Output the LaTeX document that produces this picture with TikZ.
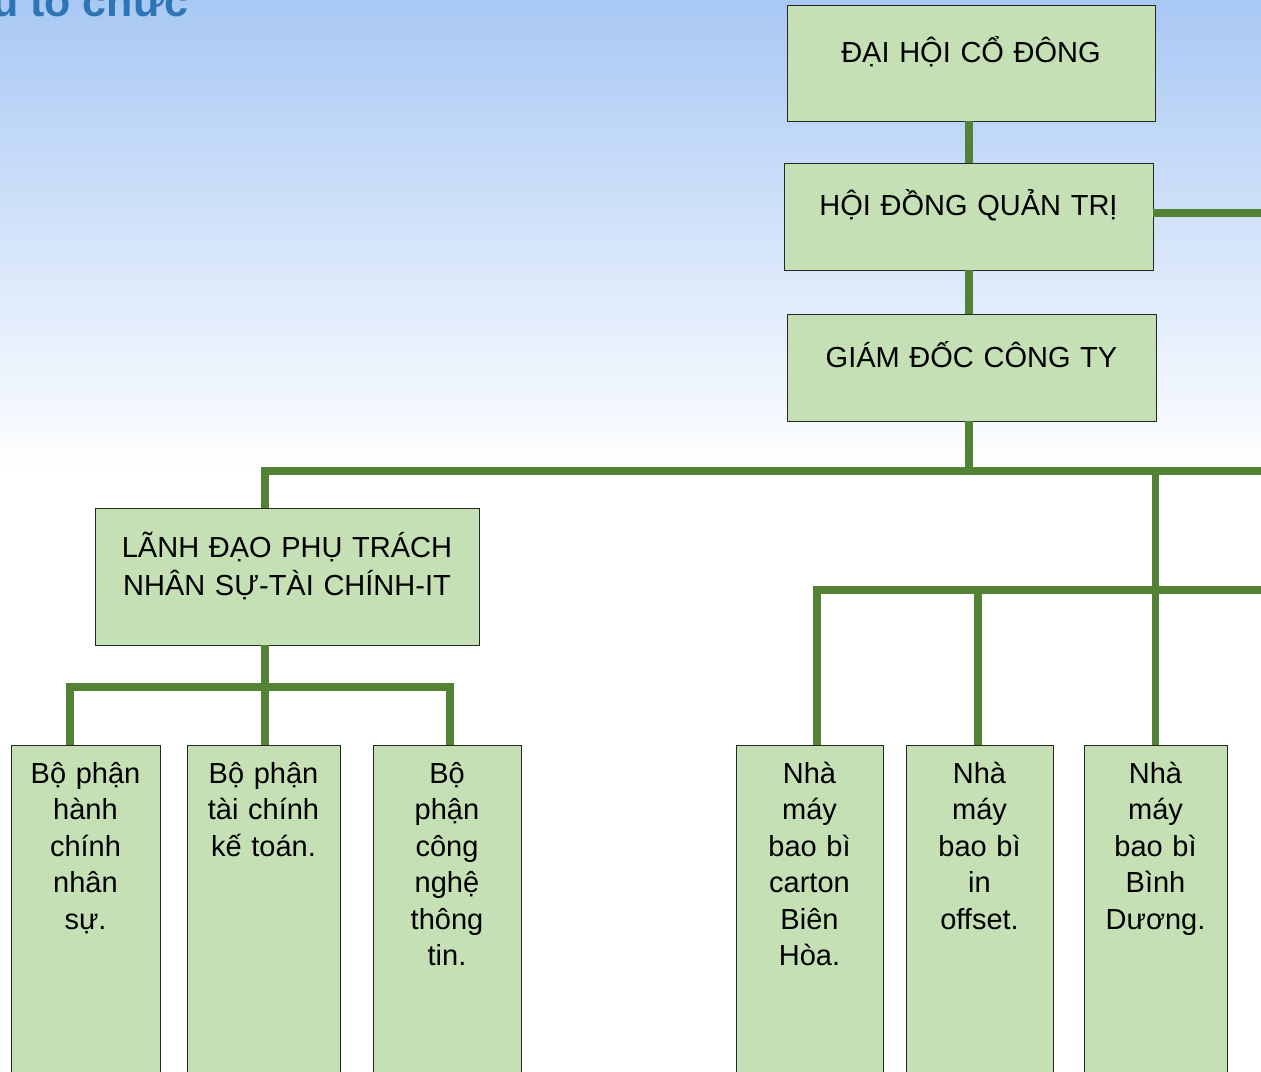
\documentclass[tikz,border=0pt]{standalone}
\usepackage{fontspec}
\setmainfont{Liberation Sans}
\definecolor{lnk}{HTML}{548235}
\definecolor{boxfill}{HTML}{C5E0B4}
\definecolor{bgtop}{HTML}{A8C8F4}
\definecolor{ttl}{HTML}{2E75B6}
\begin{document}
\begin{tikzpicture}[x=1pt,y=-1pt,
  box/.style={draw=black!85, line width=1pt, fill=boxfill, inner sep=0pt, outer sep=0pt},
  lbl/.style={font=\fontsize{29}{36.4}\selectfont, align=center, inner sep=0pt, anchor=base},
  link/.style={draw=lnk, line width=7.5pt}]
\useasboundingbox (0,0) rectangle (1261,1071);
\begin{scope}
\clip (0,0) rectangle (1261,1071);
\fill[white] (0,0) rectangle (1261,1071);
\shade[top color=bgtop, bottom color=white] (0,0) rectangle (1261,470);
\node[anchor=base west, inner sep=0pt, text=ttl, font=\fontsize{43}{50}\selectfont\bfseries] (title) at (-8,16) {u tổ chức};

% boxes
\node[box, minimum width=368pt, minimum height=116pt] (dhcd) at (971,63) {};
\node[box, minimum width=369pt, minimum height=107pt] (hdqt) at (968.5,216.5) {};
\node[box, minimum width=369pt, minimum height=107pt] (gdct) at (971.5,367.5) {};
\node[box, minimum width=384pt, minimum height=137pt] (ld) at (287,576.5) {};
\node[box, minimum width=149pt, minimum height=345pt] (A) at (85.5,917.5) {};
\node[box, minimum width=153pt, minimum height=345pt] (B) at (263.5,917.5) {};
\node[box, minimum width=148pt, minimum height=345pt] (C) at (447,917.5) {};
\node[box, minimum width=147pt, minimum height=345pt] (D) at (809.5,917.5) {};
\node[box, minimum width=147pt, minimum height=345pt] (E) at (979.5,917.5) {};
\node[box, minimum width=143pt, minimum height=345pt] (F) at (1155.5,917.5) {};

% texts
\node[lbl, text width=360pt] (tdhcd) at (971,62) {ĐẠI HỘI CỔ ĐÔNG};
\node[lbl, text width=360pt] (thdqt) at (968.5,215.7) {HỘI ĐỒNG QUẢN TRỊ};
\node[lbl, text width=360pt] (tgdct) at (971.5,367) {GIÁM ĐỐC CÔNG TY};
\node[lbl, text width=380pt, font=\fontsize{29}{38}\selectfont] (tld) at (287,557) {LÃNH ĐẠO PHỤ TRÁCH\\NHÂN SỰ-TÀI CHÍNH-IT};
\node[lbl, text width=145pt] (tA) at (85.5,783.5) {Bộ phận\\hành\\chính\\nhân\\sự.};
\node[lbl, text width=149pt] (tB) at (263.5,783.5) {Bộ phận\\tài chính\\kế toán.};
\node[lbl, text width=144pt] (tC) at (447,783.5) {Bộ\\phận\\công\\nghệ\\thông\\tin.};
\node[lbl, text width=143pt] (tD) at (809.5,783.5) {Nhà\\máy\\bao bì\\carton\\Biên\\Hòa.};
\node[lbl, text width=143pt] (tE) at (979.5,783.5) {Nhà\\máy\\bao bì\\in\\offset.};
\node[lbl, text width=140pt] (tF) at (1155.5,783.5) {Nhà\\máy\\bao bì\\Bình\\Dương.};

% junction coordinates
\coordinate (r1) at (1265,213);
\coordinate (j1) at (969,471);
\coordinate (hL) at (265,471);
\coordinate (hR) at (1265,471);
\coordinate (bL) at (70,687);
\coordinate (bM) at (265,687);
\coordinate (bR) at (450,687);
\coordinate (fL) at (817,590);
\coordinate (fE) at (978,590);
\coordinate (fR) at (1265,590);

% connectors
\draw[link] (hdqt.north -| j1) -- (dhcd.south -| j1);
\draw[link] (gdct.north -| j1) -- (hdqt.south -| j1);
\draw[link] (hdqt.east |- r1) -- (r1);
\draw[link] (gdct.south -| j1) -- (j1);
\draw[link] (ld.north -| hL) -- (hL) -- (hR);
\draw[link] (F.north) -- (F.north |- hR);
\draw[link] (ld.south -| bM) -- (B.north -| bM);
\draw[link] (A.north -| bL) -- (bL) -- (bR) -- (C.north -| bR);
\draw[link] (D.north -| fL) -- (fL) -- (fR);
\draw[link] (E.north -| fE) -- (fE);
\end{scope}
\end{tikzpicture}
\end{document}
